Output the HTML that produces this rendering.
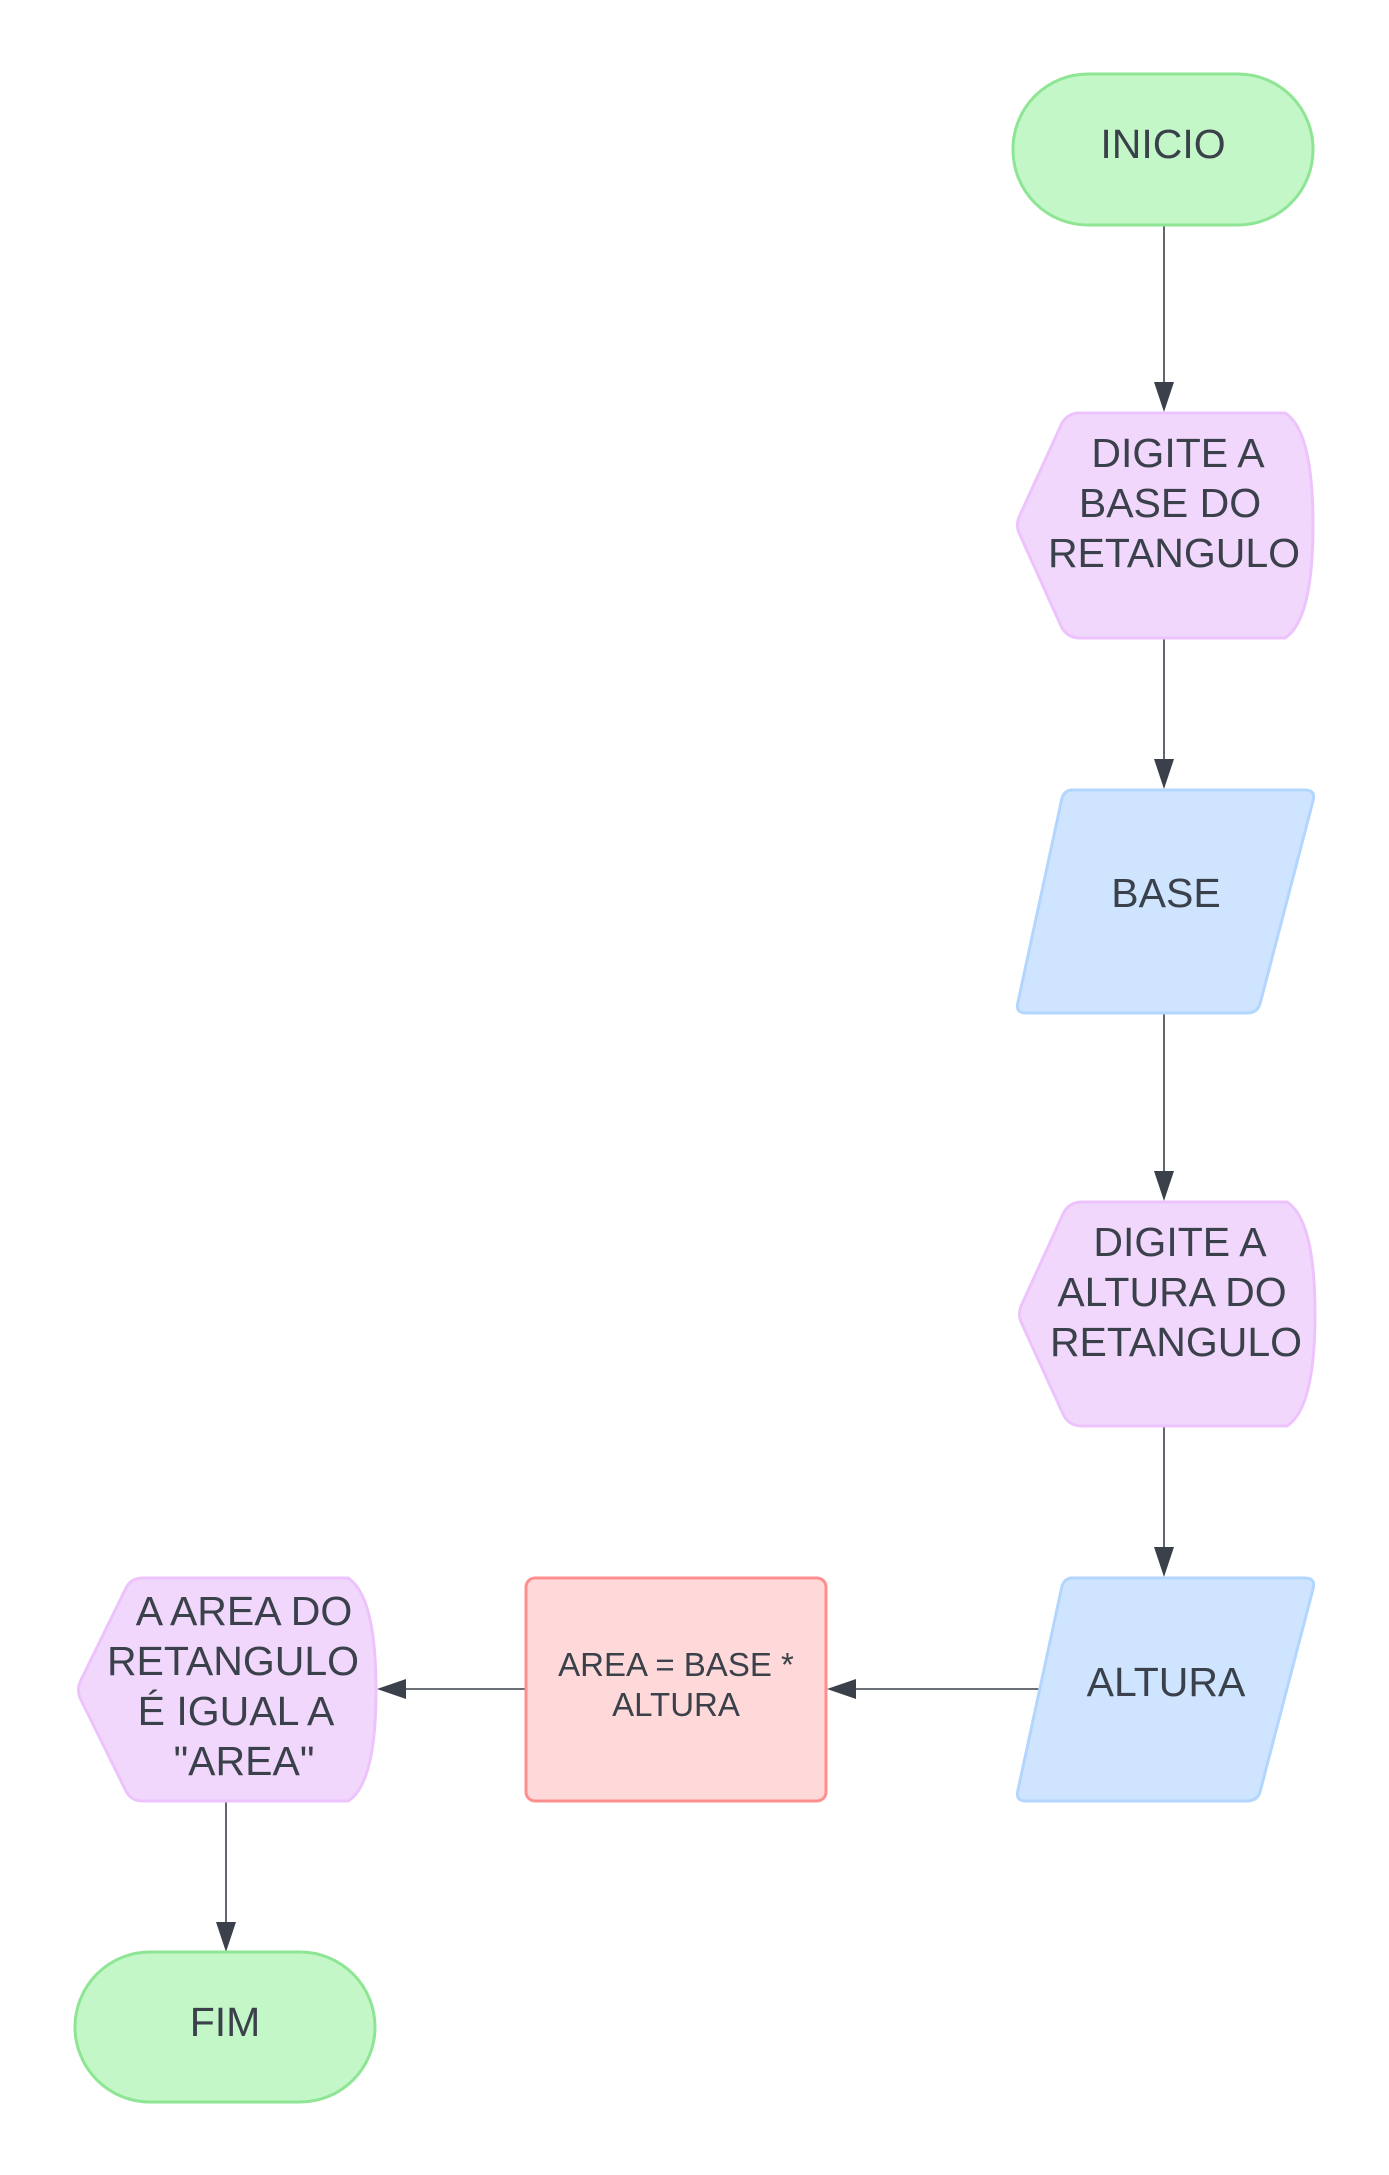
<!DOCTYPE html>
<html><head><meta charset="utf-8"><style>
html,body{margin:0;padding:0;background:#fff;}
svg{display:block;}
text{font-family:"Liberation Sans",sans-serif;fill:#3a414a;text-anchor:middle;}
</style></head><body>
<svg width="1389" height="2175" viewBox="0 0 1389 2175" xmlns="http://www.w3.org/2000/svg">
<g stroke="#3a414a" stroke-width="1.6" fill="none">
<line x1="1164" y1="225" x2="1164" y2="388"/>
<line x1="1164" y1="639" x2="1164" y2="765"/>
<line x1="1164" y1="1014" x2="1164" y2="1177"/>
<line x1="1164" y1="1427" x2="1164" y2="1553"/>
<line x1="1045" y1="1689" x2="850" y2="1689"/>
<line x1="525" y1="1689" x2="400" y2="1689"/>
<line x1="226" y1="1802" x2="226" y2="1928"/>
</g>
<g fill="#3a414a">
<polygon points="1154,382 1174,382 1164,412"/>
<polygon points="1154,759 1174,759 1164,789"/>
<polygon points="1154,1171 1174,1171 1164,1201"/>
<polygon points="1154,1547 1174,1547 1164,1577"/>
<polygon points="856,1679 856,1699 827,1689"/>
<polygon points="406,1679 406,1699 377,1689"/>
<polygon points="216,1922 236,1922 226,1952"/>
</g>
<rect x="1013" y="74" width="300" height="151" rx="75" fill="#c3f7c8" stroke="#8ee593" stroke-width="3"/>
<text x="1163" y="158" font-size="41">INICIO</text>
<path d="M1080,413 L1285,413 Q1313,430 1313,525 Q1313,620 1285,638 L1080,638 Q1068,638 1062,628 L1020,535 Q1015,525 1020,515 L1062,423 Q1068,413 1080,413 Z" fill="#f2d7fd" stroke="#ecc3fc" stroke-width="3"/>
<text x="1178" y="467" font-size="41">DIGITE A</text>
<text x="1170" y="517" font-size="41">BASE DO</text>
<text x="1174" y="567" font-size="41">RETANGULO</text>
<path d="M1072,790 L1305,790 Q1316,790 1313,801 L1260,1004 Q1257,1013 1247,1013 L1026,1013 Q1015,1013 1018,1002 L1062,798 Q1065,790 1072,790 Z" fill="#cfe4ff" stroke="#b3d6ff" stroke-width="3"/>
<text x="1166" y="907" font-size="41">BASE</text>
<path d="M1082,1202 L1287,1202 Q1315,1220 1315,1314 Q1315,1408 1287,1426 L1082,1426 Q1070,1426 1064,1416 L1022,1324 Q1017,1314 1022,1304 L1064,1212 Q1070,1202 1082,1202 Z" fill="#f2d7fd" stroke="#ecc3fc" stroke-width="3"/>
<text x="1180" y="1256" font-size="41">DIGITE A</text>
<text x="1172" y="1306" font-size="41">ALTURA DO</text>
<text x="1176" y="1356" font-size="41">RETANGULO</text>
<path d="M1072,1578 L1305,1578 Q1316,1578 1313,1589 L1260,1792 Q1257,1801 1247,1801 L1026,1801 Q1015,1801 1018,1790 L1062,1586 Q1065,1578 1072,1578 Z" fill="#cfe4ff" stroke="#b3d6ff" stroke-width="3"/>
<text x="1166" y="1696" font-size="41">ALTURA</text>
<rect x="526" y="1578" width="300" height="223" rx="9" fill="#ffd9d9" stroke="#ff8f8f" stroke-width="3"/>
<text x="676" y="1676" font-size="33">AREA = BASE *</text>
<text x="676" y="1716" font-size="33">ALTURA</text>
<path d="M143,1578 L348,1578 Q376,1596 376,1690 Q376,1784 348,1801 L143,1801 Q131,1801 126,1791 L81,1700 Q76,1690 81,1680 L126,1588 Q131,1578 143,1578 Z" fill="#f2d7fd" stroke="#ecc3fc" stroke-width="3"/>
<text x="244" y="1625" font-size="41">A AREA DO</text>
<text x="233" y="1675" font-size="41">RETANGULO</text>
<text x="236" y="1725" font-size="41">É IGUAL A</text>
<text x="244" y="1775" font-size="41">"AREA"</text>
<rect x="75" y="1952" width="300" height="150" rx="75" fill="#c3f7c8" stroke="#8ee593" stroke-width="3"/>
<text x="225" y="2036" font-size="41">FIM</text>
</svg>
</body></html>
